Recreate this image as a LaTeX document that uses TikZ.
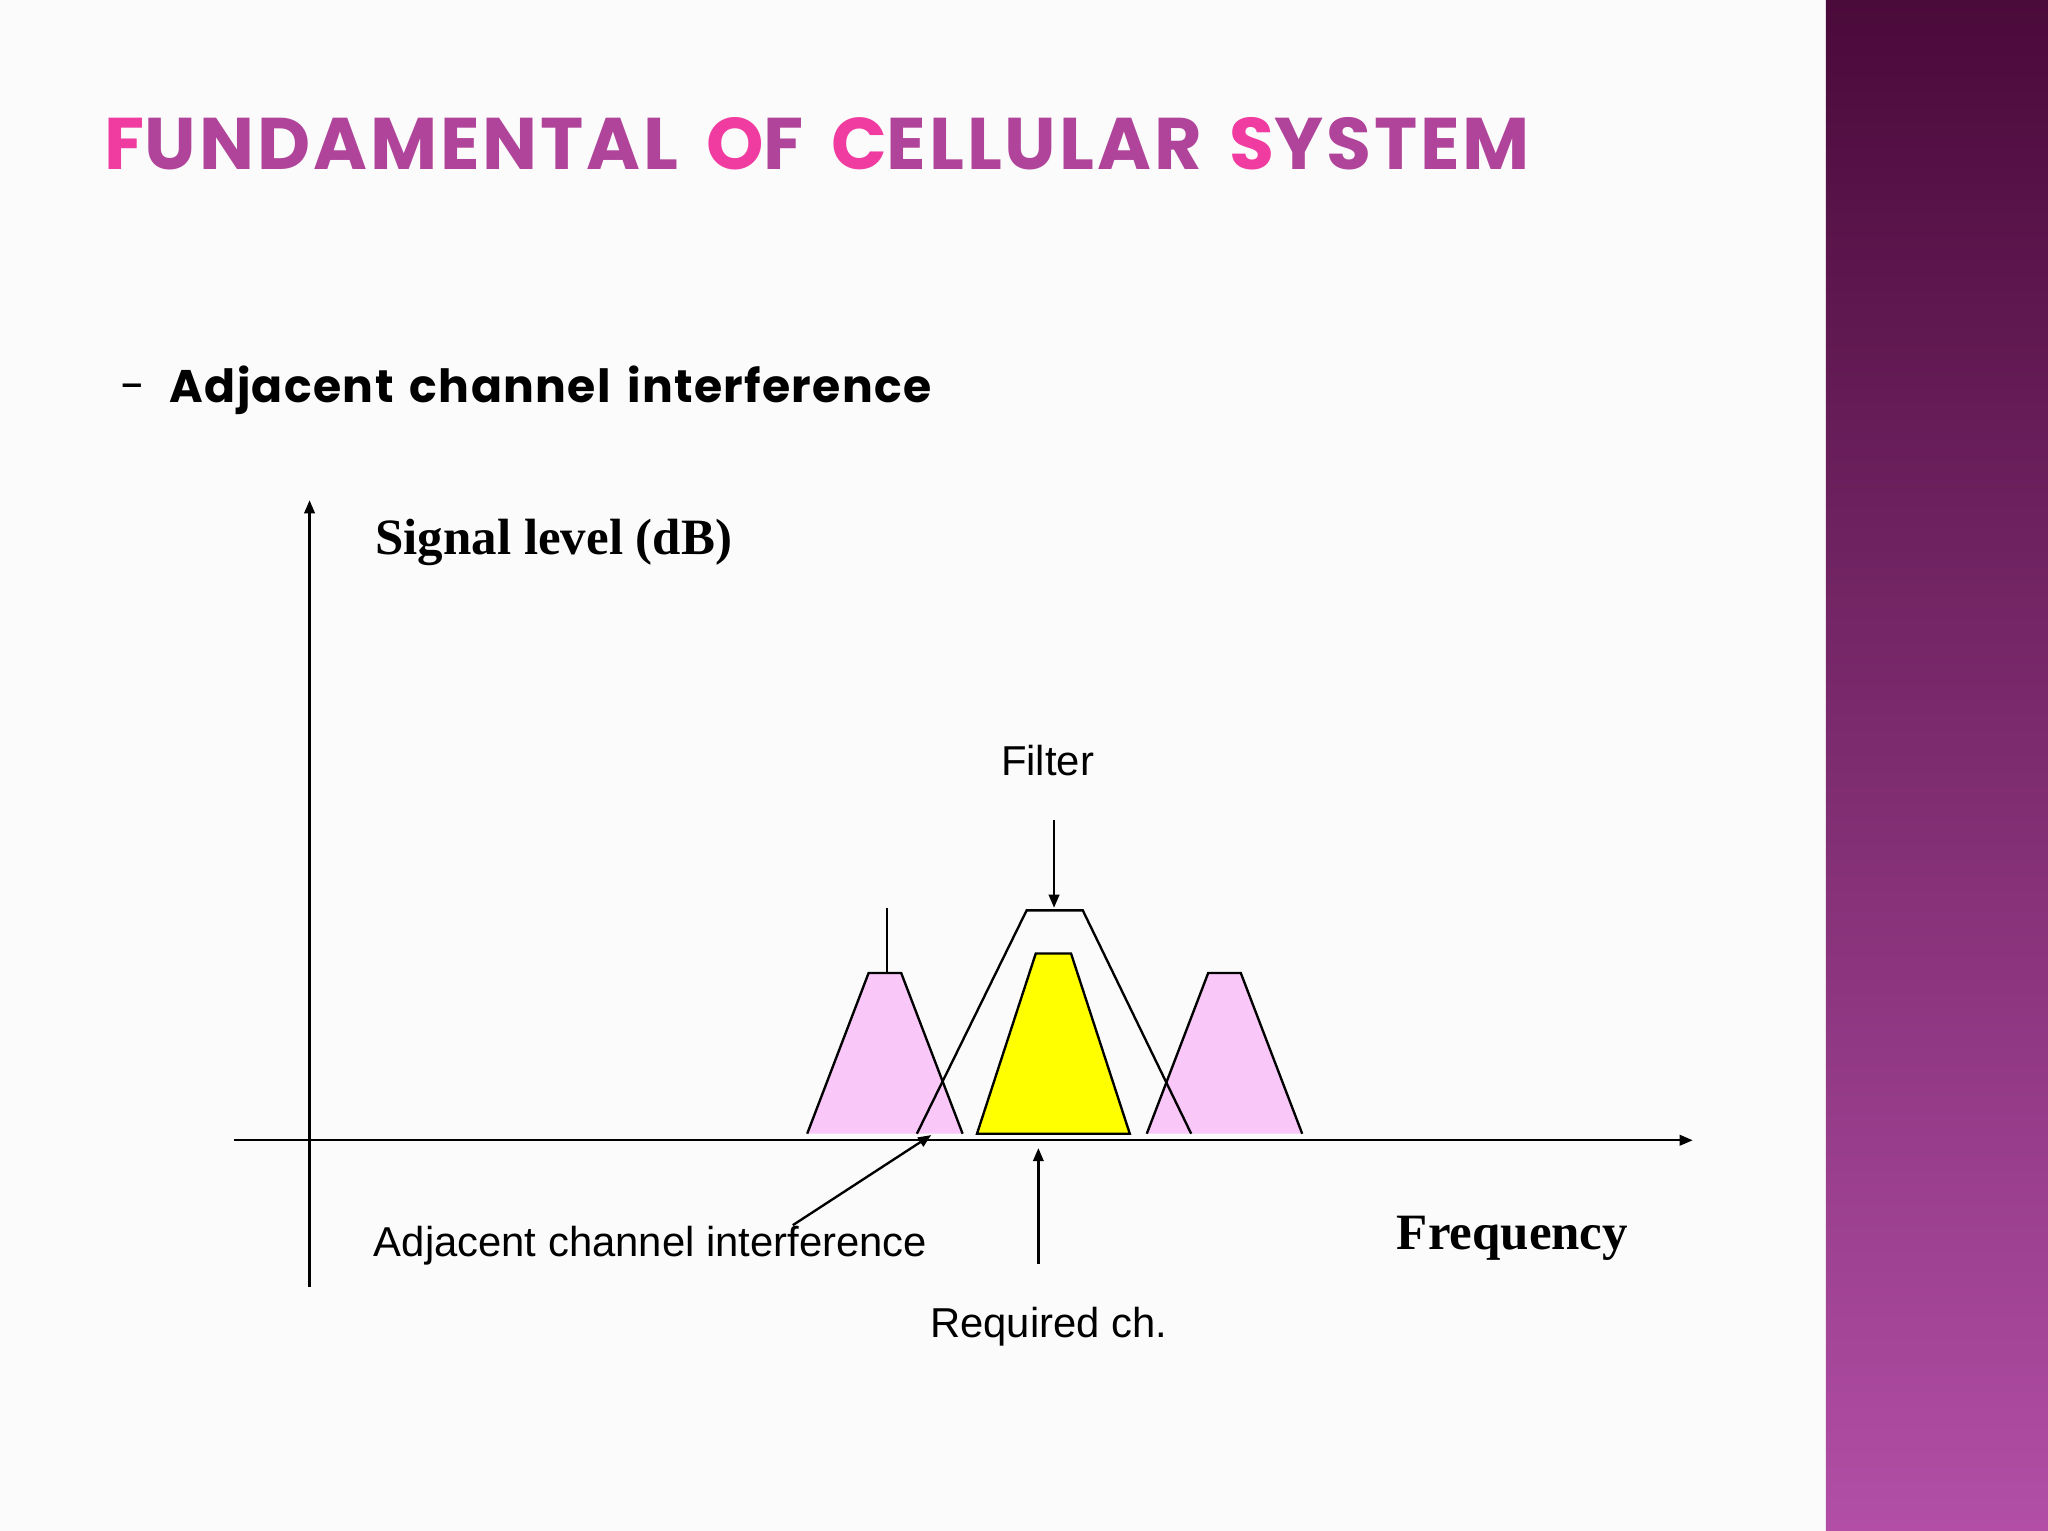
\documentclass[tikz,border=0pt]{standalone}
\usepackage{fontspec}
\setmainfont{Liberation Serif}
\newfontfamily\lsans{Liberation Sans}
\newfontfamily\tfont[LetterSpace=4]{Poppins}
\newfontfamily\sfont[LetterSpace=3]{Poppins}
\usetikzlibrary{arrows.meta}
\definecolor{tpink}{HTML}{F03BA0}
\definecolor{tpurp}{HTML}{B0449A}
\definecolor{lpink}{HTML}{F9C8F9}
\definecolor{ylw}{HTML}{FFFF00}
\definecolor{dtop}{HTML}{4A0A3A}
\definecolor{dbot}{HTML}{B24EA6}
\begin{document}
\begin{tikzpicture}[x=1pt,y=-1pt,
  arr/.style={-{Triangle[length=10pt,width=8pt]},line width=1.8pt},
  ln/.style={line width=1.8pt},
  lab/.style={font=\lsans\fontsize{32}{37}\selectfont,inner sep=0pt},
  slab/.style={font=\bfseries\fontsize{39}{44}\selectfont,inner sep=0pt}]
\useasboundingbox (0,0) rectangle (1568,1172);
\fill[white!97!gray] (0,0) rectangle (1398,1172);
\shade[top color=dtop,bottom color=dbot] (1398,0) rectangle (1568,1172);
\node[anchor=west,inner sep=0pt,font=\tfont\bfseries\fontsize{56}{60}\selectfont] (title) at (80,110)
 {\textcolor{tpink}{F}\textcolor{tpurp}{UNDAMENTAL}\hspace{7pt} \textcolor{tpink}{O}\textcolor{tpurp}{F}\hspace{7pt} \textcolor{tpink}{C}\textcolor{tpurp}{ELLULAR}\hspace{7pt} \textcolor{tpink}{S}\textcolor{tpurp}{YSTEM}};
\node[anchor=west,inner sep=0pt,font=\sfont\fontsize{35}{40}\selectfont] (sub) at (92,299) {-\hspace{8pt} \textbf{Adjacent\hspace{4pt} channel\hspace{4pt} interference}};
% axes
\coordinate (yb) at (237,985); \coordinate (yt) at (237,383);
\coordinate (xl) at (179,873); \coordinate (xr) at (1296,873);
\draw[arr] (yb) -- (yt);
\draw[arr] (xl) -- (xr);
% pink channels
\draw[ln,fill=lpink] (618,868) -- (665,745) -- (690,745) -- (737,868);
\draw[ln] (679,745) -- (679,695);
\draw[ln,fill=lpink] (878,868) -- (925,745) -- (950,745) -- (997,868);
\draw[ln,fill=ylw] (748,868) -- (793,730) -- (820,730) -- (865,868) -- cycle;
\draw[ln] (702,868) -- (786,697) -- (829,697) -- (912,868);
% labels
\node[lab] (filt) at (802,582) {Filter};
\coordinate (fa) at (807,628); \coordinate (fb) at (807,695);
\draw[arr] (fa) -- (fb);
\node[lab] (req) at (803,1016) {Required ch.};
\coordinate (ra) at (795,968); \coordinate (rb) at (795,879);
\draw[arr] (ra) -- (rb);
\node[lab] (aci) at (498,954) {Adjacent channel interference};
\coordinate (aa) at (607,938); \coordinate (ab) at (713,869);
\draw[arr] (aa) -- (ab);
\node[slab] (sig) at (424,415) {Signal level (dB)};
\node[slab] (freq) at (1158,948) {Frequency};
\end{tikzpicture}
\end{document}
